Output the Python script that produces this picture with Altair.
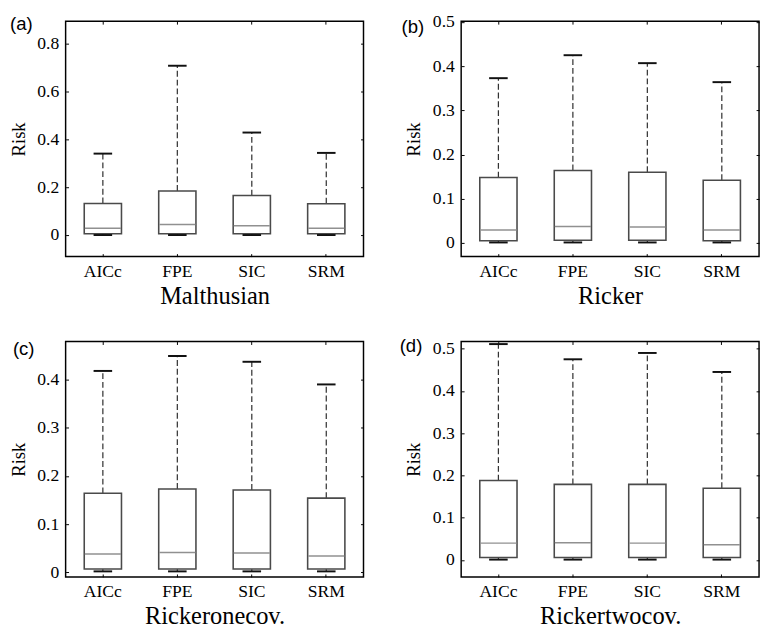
import altair as alt
import pandas as pd

categories = ["AICc", "FPE", "SIC", "SRM"]
panels = ["Malthusian", "Ricker", "Rickeronecov.", "Rickertwocov."]
labels = ["(a)", "(b)", "(c)", "(d)"]

# box statistics per panel (lower whisker, q1, median, q3, upper whisker)
malthus_lo = [0.0, 0.0, 0.0, 0.0]
malthus_q1 = [0.005, 0.005, 0.005, 0.005]
malthus_med = [0.028, 0.044, 0.039, 0.028]
malthus_q3 = [0.132, 0.184, 0.165, 0.131]
malthus_hi = [0.340, 0.707, 0.428, 0.343]

ricker_lo = [0.001, 0.001, 0.001, 0.001]
ricker_q1 = [0.005, 0.006, 0.006, 0.005]
ricker_med = [0.029, 0.037, 0.036, 0.029]
ricker_q3 = [0.148, 0.164, 0.160, 0.142]
ricker_hi = [0.373, 0.425, 0.407, 0.364]

one_lo = [0.002, 0.002, 0.002, 0.002]
one_q1 = [0.007, 0.007, 0.007, 0.007]
one_med = [0.038, 0.041, 0.040, 0.034]
one_q3 = [0.164, 0.173, 0.171, 0.154]
one_hi = [0.418, 0.449, 0.437, 0.390]

two_lo = [0.001, 0.001, 0.001, 0.001]
two_q1 = [0.006, 0.006, 0.006, 0.006]
two_med = [0.040, 0.041, 0.040, 0.036]
two_q3 = [0.188, 0.179, 0.179, 0.170]
two_hi = [0.511, 0.475, 0.490, 0.445]

y_domains = [[-0.09, 0.893], [-0.031, 0.502], [-0.0095, 0.479], [-0.040, 0.517]]
y_ticks = [[0, 0.2, 0.4, 0.6, 0.8],
           [0, 0.1, 0.2, 0.3, 0.4, 0.5],
           [0, 0.1, 0.2, 0.3, 0.4],
           [0, 0.1, 0.2, 0.3, 0.4, 0.5]]

stats = [
    (malthus_lo, malthus_q1, malthus_med, malthus_q3, malthus_hi),
    (ricker_lo, ricker_q1, ricker_med, ricker_q3, ricker_hi),
    (one_lo, one_q1, one_med, one_q3, one_hi),
    (two_lo, two_q1, two_med, two_q3, two_hi),
]

rows = []
for name, (lo, q1, med, q3, hi) in zip(panels, stats):
    for i, c in enumerate(categories):
        rows.append(dict(panel=name, cat=c, lo=lo[i], q1=q1[i], med=med[i], q3=q3[i], hi=hi[i]))
df = pd.DataFrame(rows)

SERIF = "Liberation Serif"
SANS = "Liberation Sans"
W = 305
heights = [241, 241, 241, 241]
label_x = [-57, -61, -54, -63]
label_y = [-6, -3, -1, -4]

BOX = "#4a4a4a"
MED = "#909090"
WHISK = "#333333"
CAP = "#111111"


def panel(k):
    name = panels[k]
    d = df[df.panel == name]
    xs = alt.Scale(domain=categories, paddingInner=0, paddingOuter=0)
    ys = alt.Scale(domain=y_domains[k], nice=False, zero=False)
    xax = alt.Axis(orient="bottom", offset=-3, tickSize=3, tickColor="black", domain=False,
                   labelAngle=0, labelFont=SERIF, labelFontSize=18, labelColor="black",
                   labelPadding=6, title=name, titleFont=SERIF, titleFontSize=25,
                   titleFontWeight="normal", titleColor="black", titlePadding=4, grid=False)
    yax = alt.Axis(orient="left", offset=-3, tickSize=3, tickColor="black", domain=False,
                   values=y_ticks[k], format="~g", labelFont=SERIF, labelFontSize=18,
                   labelColor="black", labelPadding=7, title="Risk", titleFont=SERIF,
                   titleFontSize=19, titleFontWeight="normal", titleColor="black",
                   titlePadding=9, grid=False)
    X = alt.X("cat:N", scale=xs, axis=xax, sort=categories)
    base = alt.Chart(d)
    whisk = base.mark_rule(strokeDash=[6, 3], color=WHISK, strokeWidth=1.25).encode(
        x=X, y=alt.Y("q3:Q", scale=ys, axis=yax), y2="hi")
    lowwhisk = base.mark_rule(strokeDash=[6, 3], color=WHISK, strokeWidth=1.25).encode(
        x=X, y=alt.Y("lo:Q", scale=ys, axis=yax), y2="q1")
    box = base.mark_bar(width={"band": 0.5}, fill="white", stroke=BOX, strokeWidth=1.6).encode(
        x=X, y=alt.Y("q1:Q", scale=ys, axis=yax), y2="q3")
    med = base.mark_tick(size=37, thickness=1.5, color=MED, opacity=1).encode(
        x=X, y=alt.Y("med:Q", scale=ys, axis=yax))
    cap_hi = base.mark_tick(size=19, thickness=2, color=CAP, opacity=1).encode(
        x=X, y=alt.Y("hi:Q", scale=ys, axis=yax))
    cap_lo = base.mark_tick(size=19, thickness=2, color=CAP, opacity=1).encode(
        x=X, y=alt.Y("lo:Q", scale=ys, axis=yax))
    tag = alt.Chart(pd.DataFrame({"t": [labels[k]]})).mark_text(
        font=SANS, fontSize=19, align="left", baseline="top", color="black").encode(
        text="t:N", x=alt.value(label_x[k]), y=alt.value(label_y[k]))
    main = alt.layer(whisk, lowwhisk, box, med, cap_lo, cap_hi)
    mirror = base.mark_rule(opacity=0).encode(
        x=alt.X("cat:N", scale=xs, sort=categories,
                axis=alt.Axis(orient="top", offset=-3, tickSize=3, tickColor="black",
                              domain=False, labels=False, title=None, grid=False)),
        y=alt.Y("q3:Q", scale=ys,
                axis=alt.Axis(orient="right", offset=-3, tickSize=3, tickColor="black",
                              domain=False, labels=False, title=None, grid=False,
                              values=y_ticks[k])))
    return alt.layer(main, mirror, tag).resolve_scale(x="independent", y="independent").properties(
        width=W, height=heights[k])


chart = alt.concat(panel(0), panel(1), panel(2), panel(3), columns=2, bounds="flush",
                   spacing={"row": 87, "column": 100}).configure_view(
    stroke="black", strokeWidth=1.5).properties(
    padding={"top": -3, "left": 0, "right": 0, "bottom": 0}, background="white")

chart.save("out.html", embed_options={"renderer": "svg", "actions": False})
